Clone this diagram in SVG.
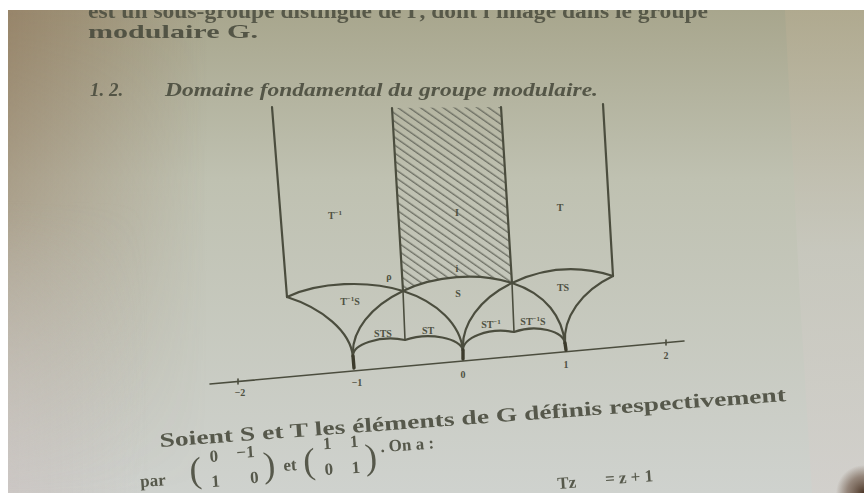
<svg xmlns="http://www.w3.org/2000/svg" width="864" height="493" viewBox="0 0 864 493">
<defs>
  <linearGradient id="pg" x1="0" y1="0" x2="0" y2="1">
    <stop offset="0" stop-color="#a8a68d"/>
    <stop offset="0.35" stop-color="#bfc1b1"/>
    <stop offset="1" stop-color="#cfd2ce"/>
  </linearGradient>
  <linearGradient id="lft" x1="0" y1="0" x2="1" y2="0">
    <stop offset="0" stop-color="#8e7357" stop-opacity="0.65"/>
    <stop offset="1" stop-color="#8e7357" stop-opacity="0"/>
  </linearGradient>
  <linearGradient id="fadeV" x1="0" y1="0" x2="0" y2="1">
    <stop offset="0" stop-color="#ffffff"/>
    <stop offset="0.45" stop-color="#ffffff" stop-opacity="0.6"/>
    <stop offset="1" stop-color="#ffffff" stop-opacity="0"/>
  </linearGradient>
  <mask id="mV" maskUnits="userSpaceOnUse" x="0" y="0" width="864" height="493">
    <rect x="0" y="10" width="300" height="483" fill="url(#fadeV)"/>
  </mask>
  <linearGradient id="lfb" x1="0" y1="0" x2="1" y2="0">
    <stop offset="0" stop-color="#c9bfbd" stop-opacity="0.6"/>
    <stop offset="1" stop-color="#c9bfbd" stop-opacity="0"/>
  </linearGradient>
  <linearGradient id="fadeU" x1="0" y1="0" x2="0" y2="1">
    <stop offset="0" stop-color="#ffffff" stop-opacity="0"/>
    <stop offset="1" stop-color="#ffffff"/>
  </linearGradient>
  <mask id="mU" maskUnits="userSpaceOnUse" x="0" y="0" width="864" height="493">
    <rect x="0" y="200" width="300" height="293" fill="url(#fadeU)"/>
  </mask>
  <linearGradient id="rgt" x1="0" y1="0" x2="0" y2="1">
    <stop offset="0" stop-color="#b3ab90"/>
    <stop offset="0.5" stop-color="#c9c8bf"/>
    <stop offset="1" stop-color="#d3cfcb"/>
  </linearGradient>
  <radialGradient id="corner" cx="864" cy="493" r="28" gradientUnits="userSpaceOnUse">
    <stop offset="0" stop-color="#4a3526"/>
    <stop offset="0.6" stop-color="#6b5444" stop-opacity="0.6"/>
    <stop offset="1" stop-color="#6b5444" stop-opacity="0"/>
  </radialGradient>
  <pattern id="hatch" width="6.5" height="6.5" patternUnits="userSpaceOnUse" patternTransform="rotate(35)">
    <line x1="0" y1="3" x2="6.5" y2="3" stroke="#62655a" stroke-width="1.2"/>
  </pattern>
</defs>
<style>
  .ln{fill:none;stroke:#4b4d3e;stroke-width:2.2;stroke-linecap:round;stroke-linejoin:round}
  .thin{stroke-width:1.6}
  .cusp{stroke:#3c3b2c;stroke-width:3.4;stroke-linecap:round}
  .lbl{font-family:"Liberation Serif",serif;font-size:10px;fill:#4f5142;font-weight:bold;text-anchor:middle}
  .sup{font-size:7px}
  .body{font-family:"Liberation Serif",serif;fill:#4a4c3e}
  .bold{font-weight:bold}
  .par{font-size:36px;font-weight:normal}
</style>

<!-- photo background -->
<rect x="0" y="0" width="864" height="493" fill="#ffffff"/>
<rect x="8" y="10" width="856" height="483" fill="url(#pg)"/>
<rect x="8" y="10" width="200" height="483" fill="url(#lft)" mask="url(#mV)"/>
<rect x="8" y="200" width="140" height="293" fill="url(#lfb)" mask="url(#mU)"/>
<polygon points="785,10 864,10 864,493 812,493 800,300" fill="url(#rgt)" opacity="0.7"/>
<rect x="820" y="450" width="44" height="43" fill="url(#corner)"/>

<!-- page text -->
<g id="text-top" class="body bold">
  <text x="88" y="18" font-size="20" textLength="620" lengthAdjust="spacingAndGlyphs" opacity="0.85">est un sous-groupe distingué de Γ, dont l'image dans le groupe</text>
  <text x="88" y="38" font-size="19" textLength="170" lengthAdjust="spacingAndGlyphs" opacity="0.9">modulaire G.</text>
  <text x="90" y="96" font-size="19" font-style="italic" opacity="0.9">1. 2.</text>
  <text x="165" y="96" font-size="19" font-style="italic" textLength="433" lengthAdjust="spacingAndGlyphs" opacity="0.9">Domaine fondamental du groupe modulaire.</text>
</g>

<!-- hatched fundamental domain -->
<g id="domain">
  <path d="M392,108 L501,107 L512,283 C477.7,272.1 434.9,275.8 403,291 Z" fill="url(#hatch)"/>
</g>

<!-- connectors / curves -->
<g id="curves" class="ln">
  <line x1="272" y1="107" x2="287" y2="297"/>
  <line x1="392" y1="108" x2="403" y2="291"/>
  <line x1="501" y1="107" x2="512" y2="283"/>
  <line x1="603" y1="104" x2="613" y2="276"/>
  <line class="thin" x1="403" y1="291" x2="405" y2="340"/>
  <line class="thin" x1="512" y1="283" x2="514" y2="332"/>
  <path d="M353,357 C350.7,330.9 371.1,306.2 403,291 C434.9,275.8 477.7,272.1 512,283 C546.3,293.9 562.7,317.9 565,344"/>
  <path d="M287,297 C318.9,281.8 368.7,280.1 403,291 C437.3,301.9 460.7,324.9 463,351"/>
  <path d="M463,351 C460.7,324.9 480.1,298.2 512,283 C543.9,267.8 578.7,265.1 613,276"/>
  <path d="M287,297 C321.3,307.9 350.7,330.9 353,357"/>
  <path d="M613,276 C581.1,291.2 562.7,317.9 565,344"/>
  <path d="M353,357 C351.8,343.9 380.6,335 405,340 C428.2,331.8 461.8,337.9 463,351 C461.8,337.9 488.6,327 514,332 C536.2,323.8 563.8,330.9 565,344"/>
  <line class="thin" x1="210" y1="384" x2="684" y2="341"/>
  <line class="thin" x1="238" y1="379" x2="238" y2="384"/>
  <line class="thin" x1="666" y1="340" x2="666" y2="345"/>
  <line class="cusp" x1="353" y1="356" x2="354" y2="368"/>
  <line class="cusp" x1="463" y1="350" x2="463" y2="359"/>
  <line class="cusp" x1="565" y1="343" x2="566" y2="350"/>
</g>

<!-- region labels -->
<g id="labels" class="lbl">
  <text x="335" y="219">T<tspan class="sup" dy="-4">−1</tspan></text>
  <text x="457" y="216">I</text>
  <text x="560" y="211">T</text>
  <text x="389" y="280">ρ</text>
  <text x="457" y="272">i</text>
  <text x="350" y="305">T<tspan class="sup" dy="-4">−1</tspan><tspan dy="4">S</tspan></text>
  <text x="458" y="297">S</text>
  <text x="563" y="291">TS</text>
  <text x="383" y="337">STS</text>
  <text x="428" y="334">ST</text>
  <text x="491" y="328">ST<tspan class="sup" dy="-4">−1</tspan></text>
  <text x="533" y="325">ST<tspan class="sup" dy="-4">−1</tspan><tspan dy="4">S</tspan></text>
  <text x="240" y="396">−2</text>
  <text x="357" y="386">−1</text>
  <text x="463" y="378">0</text>
  <text x="566" y="368">1</text>
  <text x="666" y="359">2</text>
</g>

<!-- page text bottom -->
<g id="text-bottom" class="body">
  <text x="160" y="447" font-size="20" font-weight="bold" transform="rotate(-4.2 160 447)" textLength="628" lengthAdjust="spacingAndGlyphs" opacity="0.9">Soient S et T les éléments de G définis respectivement</text>
  <g transform="rotate(-4 140 480)" font-size="17" font-weight="bold" opacity="0.9">
    <text x="140" y="487">par</text>
    <text class="par" x="190" y="486">(</text>
    <text x="211" y="467">0</text>
    <text x="238" y="465">−1</text>
    <text x="211" y="492">1</text>
    <text x="250" y="491">0</text>
    <text class="par" x="264" y="486">)</text>
    <text x="284" y="481">et</text>
    <text class="par" x="304" y="485">(</text>
    <text x="325" y="462">1</text>
    <text x="352" y="462">1</text>
    <text x="325" y="488">0</text>
    <text x="352" y="488">1</text>
    <text class="par" x="366" y="485">)</text>
    <text x="382" y="469">. On a :</text>
    <text x="556" y="518">Tz</text>
    <text x="604" y="517">= z + 1</text>
  </g>
</g>

<!-- white border of the photograph -->
<rect x="0" y="0" width="864" height="10" fill="#ffffff"/>
<rect x="0" y="0" width="8" height="493" fill="#ffffff"/>
</svg>
